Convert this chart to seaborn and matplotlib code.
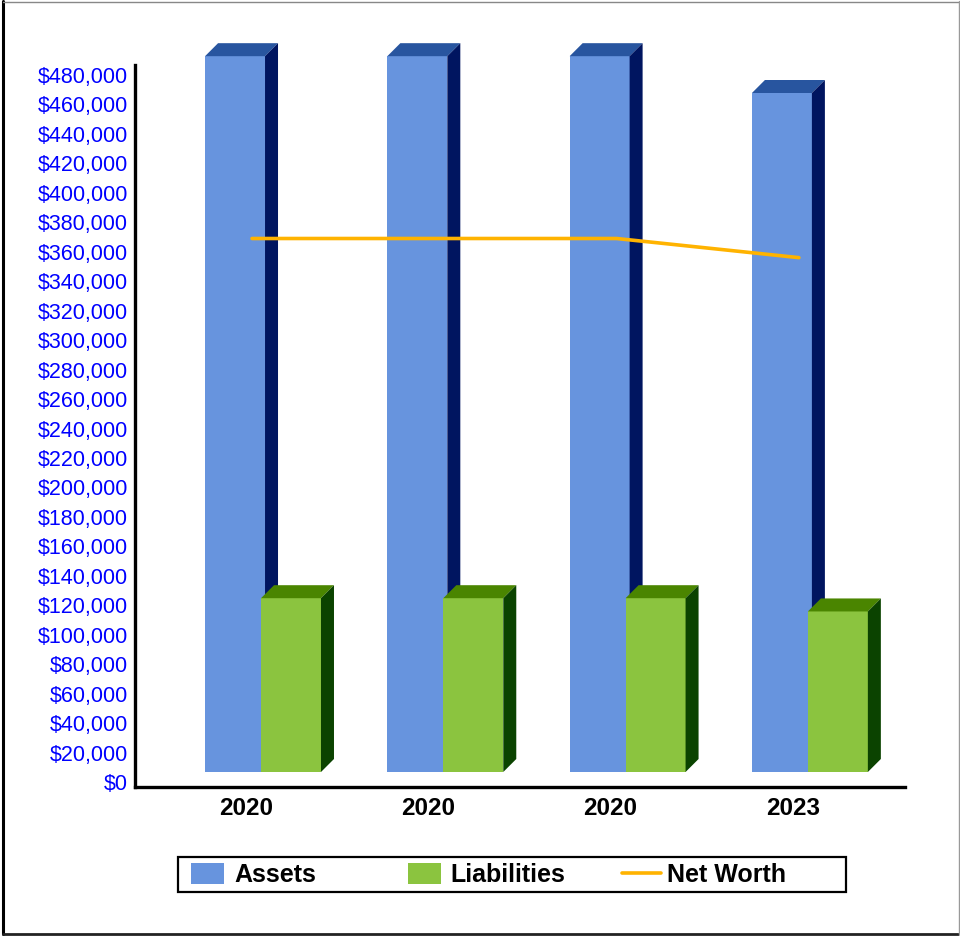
import numpy as np
import pandas as pd
import seaborn as sns
import matplotlib
matplotlib.use("Agg")
import matplotlib.pyplot as plt
from matplotlib.patches import Patch, Polygon, Rectangle
from matplotlib.lines import Line2D
from matplotlib.transforms import ScaledTranslation
from matplotlib.ticker import FuncFormatter, MultipleLocator

# ---- data -------------------------------------------------------------
years = ["2020", "2020", "2020", "2023"]
assets = [486000, 486000, 486000, 461000]
liabilities = [118000, 118000, 118000, 109000]
net_worth = [369000, 369000, 369000, 356000]
series_names = ["Assets", "Liabilities", "Net Worth"]

# ---- colours ----------------------------------------------------------
FRONT = ["#6794DE", "#8BC43F"]
TOP = ["#28559F", "#4A8500"]
SIDE = ["#001560", "#0B4300"]
LINE_COLOR = "#FFB300"

periods = list(range(len(years)))
bars = pd.DataFrame({
    "period": periods * 2,
    "series": [series_names[0]] * len(years) + [series_names[1]] * len(years),
    "value": assets + liabilities,
})
line = pd.DataFrame({"period": periods, "value": net_worth})

sns.set_theme(style="white")
plt.rcParams["font.family"] = ["Liberation Sans", "DejaVu Sans"]
plt.rcParams["text.color"] = "black"
plt.rcParams["xtick.color"] = "black"
plt.rcParams["ytick.color"] = "black"

DPI = 100
W, H = 960, 936
fig = plt.figure(figsize=(W / DPI, H / DPI), dpi=DPI)
ax = fig.add_axes([135 / W, (H - 787) / H, 770 / W, 722 / H])

sns.barplot(data=bars, x="period", y="value", hue="series",
            hue_order=series_names[:2], palette=FRONT, saturation=1,
            width=0.614, gap=0, legend=False, linewidth=0,
            edgecolor="none", ax=ax)

ax.set_xlim(-0.609, 3.615)
ax.set_ylim(-3400, 486800)

# front faces sit slightly up/right of the tick plane; depth of the 3D box
front_shift = ScaledTranslation(17 / DPI, 10 / DPI, fig.dpi_scale_trans)
depth = 13  # pixels
bar_w = 0.329

n = len(years)
inv = ax.transData.inverted()
for i, p in enumerate(ax.patches):
    s = 0 if i < n else 1
    cx = p.get_x() + p.get_width() / 2
    p.set_x(cx - bar_w / 2)
    p.set_width(bar_w)
    tr = ax.transData + front_shift
    p.set_transform(tr)
    p.set_clip_on(False)
    p.set_zorder(2 + s)
    (x0, y0), (x1, y1) = tr.transform([(p.get_x(), 0),
                                       (p.get_x() + p.get_width(), p.get_height())])
    top = [(x0, y1), (x1, y1), (x1 + depth, y1 + depth), (x0 + depth, y1 + depth)]
    side = [(x1, y0), (x1, y1), (x1 + depth, y1 + depth), (x1 + depth, y0 + depth)]
    for verts, col in ((top, TOP[s]), (side, SIDE[s])):
        ax.add_patch(Polygon(inv.transform(verts), closed=True, facecolor=col,
                             edgecolor="none", linewidth=0, clip_on=False,
                             zorder=2 + s))

sns.lineplot(data=line, x="period", y="value", color=LINE_COLOR,
             linewidth=2.6, ax=ax)
line_shift = ScaledTranslation(6 / DPI, 0, fig.dpi_scale_trans)
for ln in ax.lines:
    ln.set_transform(ax.transData + line_shift)
    ln.set_zorder(6)
    ln.set_clip_on(False)

# ---- axes styling -----------------------------------------------------
ax.yaxis.set_major_locator(MultipleLocator(20000))
ax.yaxis.set_major_formatter(FuncFormatter(lambda v, _: f"${v:,.0f}"))
ax.set_xticks(periods)
ax.set_xticklabels(years)
ax.tick_params(axis="y", length=0, pad=5, labelsize=15.5, labelcolor="#0000FF")
ax.tick_params(axis="x", length=0, pad=7, labelsize=17.5, labelcolor="black")
for t in ax.get_xticklabels():
    t.set_fontweight("bold")
ax.set_xlabel("")
ax.set_ylabel("")
for side_name in ("top", "right"):
    ax.spines[side_name].set_visible(False)
for side_name in ("left", "bottom"):
    ax.spines[side_name].set_color("black")
    ax.spines[side_name].set_linewidth(2.4)
ax.grid(False)
ax.set_facecolor("white")

# ---- legend: framed strip with three evenly spaced entries ------------
fig.add_artist(Rectangle((178 / W, 1 - 892 / H), 668 / W, 35 / H,
                         transform=fig.transFigure, facecolor="white",
                         edgecolor="black", linewidth=1.6, zorder=1))
handles = [
    Patch(facecolor=FRONT[0], edgecolor="none"),
    Patch(facecolor=FRONT[1], edgecolor="none"),
    Line2D([0], [0], color=LINE_COLOR, linewidth=2.6),
]
entry_x = [191, 408, 622]
entry_len = [1.33, 1.33, 1.55]
entry_pad = [0.4, 0.36, 0.24]
for h, name, x, hl, tp in zip(handles, series_names, entry_x, entry_len, entry_pad):
    lg = fig.legend([h], [name], loc="center left",
                    bbox_to_anchor=(x / W, 1 - 875 / H), frameon=False,
                    prop={"size": 18, "weight": "bold"},
                    handlelength=hl, handleheight=0.9, handletextpad=tp,
                    borderpad=0, borderaxespad=0, labelcolor="black")
    lg.set_zorder(2)

# ---- outer border -----------------------------------------------------
fig.add_artist(Line2D([3 / W, 3 / W], [1 - 1 / H, 1 - 934 / H], color="black", linewidth=2.2))
fig.add_artist(Line2D([3 / W, 958 / W], [1 - 933.5 / H, 1 - 933.5 / H], color="#222222", linewidth=2.0))
fig.add_artist(Line2D([3 / W, 959 / W], [1 - 1.5 / H, 1 - 1.5 / H], color="#888888", linewidth=1.0))
fig.add_artist(Line2D([958.5 / W, 958.5 / W], [1 - 1 / H, 1 - 934 / H], color="#999999", linewidth=1.0))

fig.savefig("out.png", dpi=DPI, facecolor="white")
